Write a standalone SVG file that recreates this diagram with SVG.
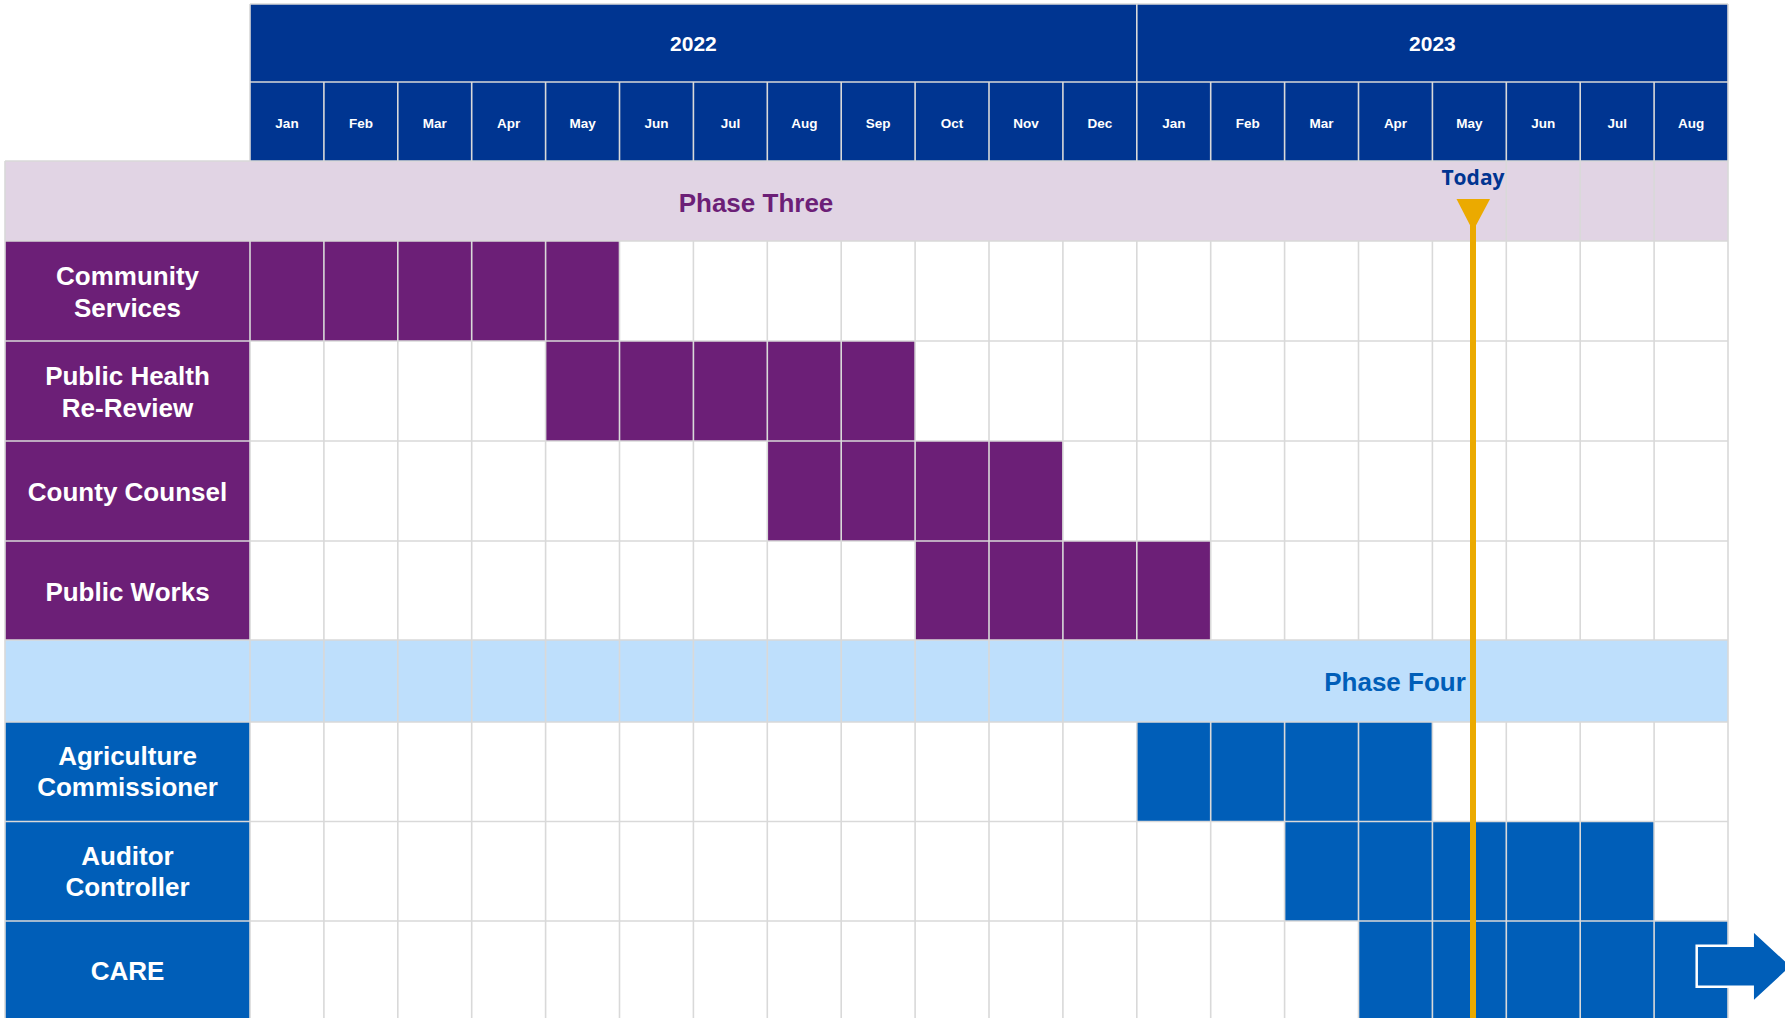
<svg xmlns="http://www.w3.org/2000/svg" width="1785" height="1018" viewBox="0 0 1785 1018">
<style>
text{font-family:"Liberation Sans",Arial,sans-serif;font-weight:bold;text-anchor:middle}
.hdr{fill:#003591}
.pur{fill:#6C1F77}
.blu{fill:#005EB8}
.wt{fill:#ffffff}
.mon{font-size:13.5px;fill:#ffffff}
.yr{font-size:21px;fill:#ffffff}
.lbl{font-size:26px;fill:#ffffff}
.grid line{stroke:#D9D9D9;stroke-width:1.6}
</style>
<rect x="0" y="0" width="1785" height="1018" fill="#ffffff"/>
<g id="header">
<rect class="hdr" x="250" y="4" width="1478" height="157"/>
<text class="yr" x="693.4" y="51">2022</text>
<text class="yr" x="1432.4" y="51">2023</text>
<g id="months">
<text class="mon" x="287" y="128.3">Jan</text>
<text class="mon" x="360.9" y="128.3">Feb</text>
<text class="mon" x="434.8" y="128.3">Mar</text>
<text class="mon" x="508.7" y="128.3">Apr</text>
<text class="mon" x="582.6" y="128.3">May</text>
<text class="mon" x="656.5" y="128.3">Jun</text>
<text class="mon" x="730.4" y="128.3">Jul</text>
<text class="mon" x="804.3" y="128.3">Aug</text>
<text class="mon" x="878.2" y="128.3">Sep</text>
<text class="mon" x="952.1" y="128.3">Oct</text>
<text class="mon" x="1026" y="128.3">Nov</text>
<text class="mon" x="1099.9" y="128.3">Dec</text>
<text class="mon" x="1173.8" y="128.3">Jan</text>
<text class="mon" x="1247.7" y="128.3">Feb</text>
<text class="mon" x="1321.6" y="128.3">Mar</text>
<text class="mon" x="1395.5" y="128.3">Apr</text>
<text class="mon" x="1469.4" y="128.3">May</text>
<text class="mon" x="1543.3" y="128.3">Jun</text>
<text class="mon" x="1617.2" y="128.3">Jul</text>
<text class="mon" x="1691.1" y="128.3">Aug</text>
</g>
</g>
<g id="phase-three">
<rect x="5" y="161" width="1723" height="80" fill="#E1D4E4"/>
<text x="756" y="211.5" style="font-size:26px;fill:#6C1F77">Phase Three</text>
</g>
<g id="phase-four">
<rect x="5" y="640" width="1723" height="82" fill="#BEDFFC"/>
<text x="1395" y="690.5" style="font-size:26px;fill:#005EB8">Phase Four</text>
</g>
<g id="community-services">
<rect class="pur" x="5" y="241" width="245" height="100"/>
<rect class="pur" x="250" y="241" width="369.5" height="100"/>
<text class="lbl" x="127.5" y="285">Community</text>
<text class="lbl" x="127.5" y="316.7">Services</text>
</g>
<g id="public-health">
<rect class="pur" x="5" y="341" width="245" height="100"/>
<rect class="pur" x="545.6" y="341" width="369.5" height="100"/>
<text class="lbl" x="127.5" y="385">Public Health</text>
<text class="lbl" x="127.5" y="416.7">Re-Review</text>
</g>
<g id="county-counsel">
<rect class="pur" x="5" y="441" width="245" height="100"/>
<rect class="pur" x="767.3" y="441" width="295.6" height="100"/>
<text class="lbl" x="127.5" y="501">County Counsel</text>
</g>
<g id="public-works">
<rect class="pur" x="5" y="541" width="245" height="99"/>
<rect class="pur" x="915.1" y="541" width="295.6" height="99"/>
<text class="lbl" x="127.5" y="601">Public Works</text>
</g>
<g id="agriculture-commissioner">
<rect class="blu" x="5" y="722" width="245" height="99.5"/>
<rect class="blu" x="1136.8" y="722" width="295.6" height="99.5"/>
<text class="lbl" x="127.5" y="765">Agriculture</text>
<text class="lbl" x="127.5" y="796">Commissioner</text>
</g>
<g id="auditor-controller">
<rect class="blu" x="5" y="821.5" width="245" height="99.5"/>
<rect class="blu" x="1284.6" y="821.5" width="369.5" height="99.5"/>
<text class="lbl" x="127.5" y="865">Auditor</text>
<text class="lbl" x="127.5" y="896">Controller</text>
</g>
<g id="care">
<rect class="blu" x="5" y="921" width="245" height="100"/>
<rect class="blu" x="1358.5" y="921" width="369.5" height="100"/>
<text class="lbl" x="127.5" y="980">CARE</text>
</g>
<g class="grid" id="grid">
<line x1="250" y1="4" x2="1728" y2="4"/>
<line x1="250" y1="82" x2="1728" y2="82"/>
<line x1="5" y1="161" x2="1728" y2="161"/>
<line x1="5" y1="241" x2="1728" y2="241"/>
<line x1="5" y1="341" x2="1728" y2="341"/>
<line x1="5" y1="441" x2="1728" y2="441"/>
<line x1="5" y1="541" x2="1728" y2="541"/>
<line x1="5" y1="640" x2="1728" y2="640"/>
<line x1="5" y1="722" x2="1728" y2="722"/>
<line x1="5" y1="821.5" x2="1728" y2="821.5"/>
<line x1="5" y1="921" x2="1728" y2="921"/>
<line x1="250" y1="4" x2="250" y2="82"/>
<line x1="1136.8" y1="4" x2="1136.8" y2="82"/>
<line x1="1728" y1="4" x2="1728" y2="82"/>
<line x1="5" y1="161" x2="5" y2="1018"/>
<line x1="1506.3" y1="161" x2="1506.3" y2="241"/>
<line x1="1580.2" y1="161" x2="1580.2" y2="241"/>
<line x1="1654.1" y1="161" x2="1654.1" y2="241"/>
<line x1="1728" y1="161" x2="1728" y2="241"/>
<line x1="250" y1="82" x2="250" y2="161"/>
<line x1="250" y1="241" x2="250" y2="1018"/>
<line x1="323.9" y1="82" x2="323.9" y2="161"/><line x1="323.9" y1="241" x2="323.9" y2="1018"/>
<line x1="397.8" y1="82" x2="397.8" y2="161"/><line x1="397.8" y1="241" x2="397.8" y2="1018"/>
<line x1="471.7" y1="82" x2="471.7" y2="161"/><line x1="471.7" y1="241" x2="471.7" y2="1018"/>
<line x1="545.6" y1="82" x2="545.6" y2="161"/><line x1="545.6" y1="241" x2="545.6" y2="1018"/>
<line x1="619.5" y1="82" x2="619.5" y2="161"/><line x1="619.5" y1="241" x2="619.5" y2="1018"/>
<line x1="693.4" y1="82" x2="693.4" y2="161"/><line x1="693.4" y1="241" x2="693.4" y2="1018"/>
<line x1="767.3" y1="82" x2="767.3" y2="161"/><line x1="767.3" y1="241" x2="767.3" y2="1018"/>
<line x1="841.2" y1="82" x2="841.2" y2="161"/><line x1="841.2" y1="241" x2="841.2" y2="1018"/>
<line x1="915.1" y1="82" x2="915.1" y2="161"/><line x1="915.1" y1="241" x2="915.1" y2="1018"/>
<line x1="989" y1="82" x2="989" y2="161"/><line x1="989" y1="241" x2="989" y2="1018"/>
<line x1="1062.9" y1="82" x2="1062.9" y2="161"/><line x1="1062.9" y1="241" x2="1062.9" y2="1018"/>
<line x1="1136.8" y1="82" x2="1136.8" y2="161"/><line x1="1136.8" y1="241" x2="1136.8" y2="640"/><line x1="1136.8" y1="722" x2="1136.8" y2="1018"/>
<line x1="1210.7" y1="82" x2="1210.7" y2="161"/><line x1="1210.7" y1="241" x2="1210.7" y2="640"/><line x1="1210.7" y1="722" x2="1210.7" y2="1018"/>
<line x1="1284.6" y1="82" x2="1284.6" y2="161"/><line x1="1284.6" y1="241" x2="1284.6" y2="640"/><line x1="1284.6" y1="722" x2="1284.6" y2="1018"/>
<line x1="1358.5" y1="82" x2="1358.5" y2="161"/><line x1="1358.5" y1="241" x2="1358.5" y2="640"/><line x1="1358.5" y1="722" x2="1358.5" y2="1018"/>
<line x1="1432.4" y1="82" x2="1432.4" y2="161"/><line x1="1432.4" y1="241" x2="1432.4" y2="640"/><line x1="1432.4" y1="722" x2="1432.4" y2="1018"/>
<line x1="1506.3" y1="82" x2="1506.3" y2="161"/><line x1="1506.3" y1="241" x2="1506.3" y2="640"/><line x1="1506.3" y1="722" x2="1506.3" y2="1018"/>
<line x1="1580.2" y1="82" x2="1580.2" y2="161"/><line x1="1580.2" y1="241" x2="1580.2" y2="640"/><line x1="1580.2" y1="722" x2="1580.2" y2="1018"/>
<line x1="1654.1" y1="82" x2="1654.1" y2="161"/><line x1="1654.1" y1="241" x2="1654.1" y2="640"/><line x1="1654.1" y1="722" x2="1654.1" y2="1018"/>
<line x1="1728" y1="82" x2="1728" y2="161"/><line x1="1728" y1="241" x2="1728" y2="1018"/>
</g>
<g id="connectors">
<polygon points="1696.7,945.7 1752.7,945.7 1752.7,930 1792,966.3 1752.7,1002.7 1752.7,986.7 1696.7,986.7" fill="#005EB8" stroke="#ffffff" stroke-width="2.5"/>
</g>
<g id="today">
<line x1="1473" y1="200" x2="1473" y2="1018" stroke="#EBAA00" stroke-width="6"/>
<polygon points="1456.5,199 1490,199 1473,231" fill="#EBAA00"/>
<text x="1473" y="185" style="font-family:'Open Sans','Liberation Sans',sans-serif;font-size:21px;fill:#003591">Today</text>
</g>
</svg>
